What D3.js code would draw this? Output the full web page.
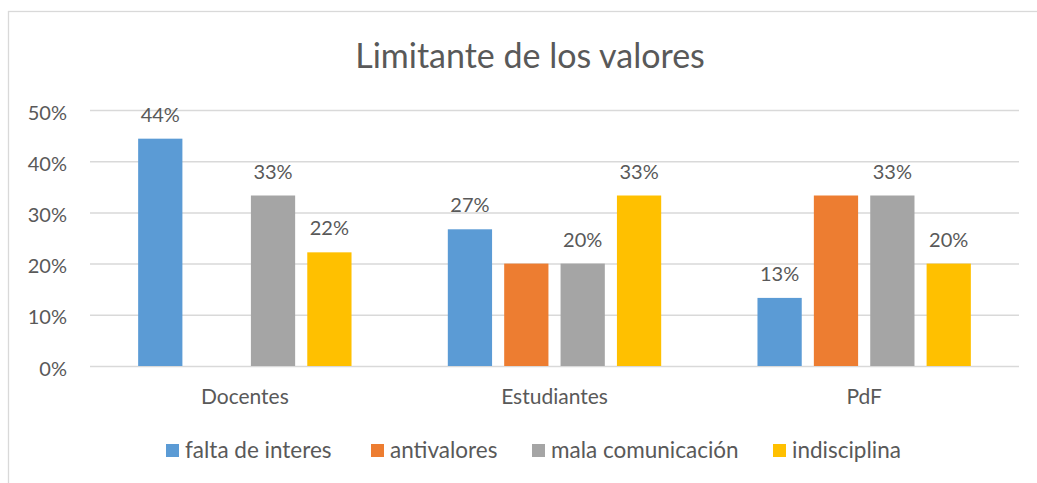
<!DOCTYPE html>
<html lang="es">
    <head>
        <meta charset="utf-8">
        <title>Limitante de los valores</title>
        <script src="https://d3js.org/d3.v7.min.js"></script>
        <style>
            body { margin: 0; background: #fff; }
            text { font-family: Lato, "Open Sans", sans-serif; fill: #595959; }
        </style>
    </head>
    <body>
        <script type="text/javascript">

            //categories on the x axis
            var groups = ["Docentes", "Estudiantes", "PdF"];

            //series names (legend order)
            var series = ["falta de interes", "antivalores", "mala comunicación", "indisciplina"];

            //values per series, one per group
            var faltaInteres = [0.444, 0.267, 0.133];
            var antivalores = [0, 0.2, 0.333];
            var malaComunicacion = [0.333, 0.2, 0.333];
            var indisciplina = [0.222, 0.333, 0.2];

            //which series show data labels in the original
            var showLabels = [true, false, true, true];

            //y tick values
            var yTicks = [0, 0.1, 0.2, 0.3, 0.4, 0.5];

            var colors = ["#5B9BD5", "#ED7D31", "#A5A5A5", "#FFC000"];
            var allValues = [faltaInteres, antivalores, malaComunicacion, indisciplina];

            var width = 1037, height = 483;
            var plot = {left: 90, right: 1019, top: 110, bottom: 366};

            var svg = d3.select("body")
                .append("svg")
                .attr("width", width)
                .attr("height", height);

            //chart border (right and bottom edge are cut off in the picture)
            svg.append("rect")
                .attr("x", 8.5)
                .attr("y", 11.5)
                .attr("width", 1040)
                .attr("height", 480)
                .attr("fill", "none")
                .attr("stroke", "#D9D9D9")
                .attr("stroke-width", 1.3);

            //title
            svg.append("text")
                .attr("x", 530)
                .attr("y", 68)
                .attr("text-anchor", "middle")
                .attr("font-size", "34px")
                .text("Limitante de los valores");

            //scales
            var yScale = d3.scaleLinear()
                .domain([0, 0.5])
                .range([plot.bottom, plot.top]);

            var x0 = d3.scaleBand()
                .domain(groups)
                .range([plot.left, plot.right])
                .padding(0);

            var x1 = d3.scaleBand()
                .domain(series)
                .range([0, x0.bandwidth()])
                .paddingInner(0.215)
                .paddingOuter(0.854);

            //gridlines + y labels
            var yAxis = svg.append("g")
                .attr("transform", "translate(" + plot.left + ",0)")
                .call(d3.axisLeft(yScale)
                    .tickValues(yTicks)
                    .tickSize(-(plot.right - plot.left))
                    .tickPadding(23)
                    .tickFormat(d3.format(".0%")));

            yAxis.select(".domain").remove();
            yAxis.selectAll(".tick line")
                .attr("stroke", "#D9D9D9")
                .attr("stroke-width", 1.5);
            yAxis.selectAll(".tick text")
                .attr("font-family", null)
                .attr("font-size", "20px")
                .attr("fill", "#595959")
                .attr("dy", "0.45em");

            //bars, one group per series
            var seriesData = series.map(function(name, i) {
                return groups.map(function(g, j) {
                    return {group: g, series: name, value: allValues[i][j], label: showLabels[i]};
                });
            });

            var bars = svg.append("g");

            seriesData.forEach(function(rows, i) {
                bars.selectAll(".bar" + i)
                    .data(rows)
                    .enter()
                    .append("rect")
                    .attr("class", "bar" + i)
                    .attr("x", function(d) { return x0(d.group) + x1(d.series); })
                    .attr("y", function(d) { return yScale(d.value); })
                    .attr("width", x1.bandwidth())
                    .attr("height", function(d) { return plot.bottom - yScale(d.value); })
                    .attr("fill", colors[i]);

                //data labels
                bars.selectAll(".lbl" + i)
                    .data(rows.filter(function(d) { return d.label && d.value > 0; }))
                    .enter()
                    .append("text")
                    .attr("class", "lbl" + i)
                    .attr("x", function(d) { return x0(d.group) + x1(d.series) + x1.bandwidth() / 2; })
                    .attr("y", function(d) { return yScale(d.value) - 17; })
                    .attr("text-anchor", "middle")
                    .attr("font-size", "20px")
                    .attr("fill", "#404040")
                    .text(function(d) { return d3.format(".0%")(d.value); });
            });

            //x axis labels
            var xAxis = svg.append("g")
                .attr("transform", "translate(0," + plot.bottom + ")")
                .call(d3.axisBottom(x0).tickSize(0).tickPadding(23));

            xAxis.select(".domain").remove();
            xAxis.selectAll(".tick text")
                .attr("font-family", null)
                .attr("font-size", "21px")
                .attr("fill", "#595959");

            //legend
            var legendX = [166, 371, 532, 773];

            var legend = svg.append("g")
                .selectAll("g")
                .data(series)
                .enter()
                .append("g")
                .attr("transform", function(d, i) { return "translate(" + legendX[i] + ",444)"; });

            legend.append("rect")
                .attr("width", 13)
                .attr("height", 13)
                .attr("fill", function(d, i) { return colors[i]; });

            legend.append("text")
                .attr("x", 19)
                .attr("y", 14)
                .attr("font-size", "22.5px")
                .text(function(d) { return d; });

        </script>
    </body>
</html>
